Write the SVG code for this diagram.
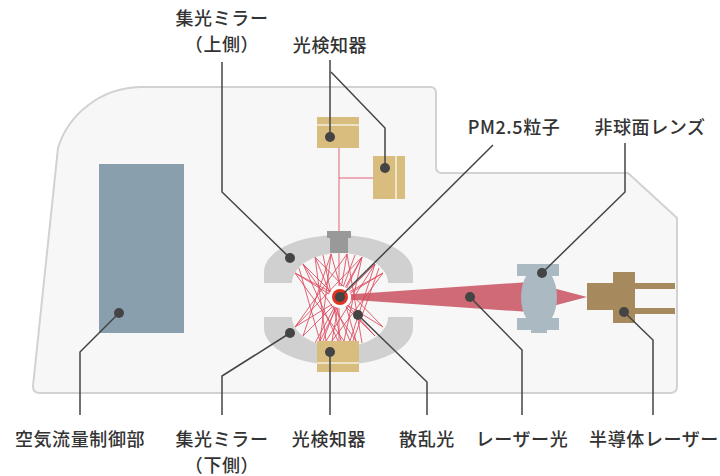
<svg xmlns="http://www.w3.org/2000/svg" width="720" height="476" viewBox="0 0 720 476">
  <style>
    .lbl { font-family: "Noto Sans CJK JP", "Noto Sans", "Liberation Sans", sans-serif; font-size: 18px; font-weight: 500; fill: #333; text-anchor: middle; letter-spacing: 0.6px; }
    .lead { fill: none; stroke: #444; stroke-width: 1.5; }
    .dot { fill: #444; }
    .scat { stroke: #de4a5e; stroke-width: 1; opacity: 0.85; }
    .mirror { fill: #d0d0d0; }
    .det { fill: #d8bd7e; }
    .detline { stroke: #f6efdc; stroke-width: 1.6; }
  </style>

  <rect width="720" height="476" fill="#ffffff"/>

  <!-- instrument housing -->
  <g id="housing">
    <path d="M 40 393 H 670 Q 677 393 677 386 V 218 L 628 173 H 442 Q 436 173 436 167 V 93 Q 436 87 430 87 H 140 C 100 88 68 115 58 148 L 33 386 Q 33 393 40 393 Z" fill="#f7f7f7" stroke="#d2d2d2" stroke-width="2"/>
  </g>

  <!-- air flow control unit -->
  <g id="flow-control">
    <rect x="99" y="164" width="85" height="169" fill="#8a9fad"/>
  </g>

  <!-- laser beam -->
  <g id="laser-beam">
    <path d="M 340 295 L 530 282 L 587 297 L 530 312 L 340 299 Z" fill="#d06a77"/>
  </g>

  <!-- scattered light inside the mirror chamber -->
  <g id="scattered-light">
    <line class="scat" x1="339" y1="148" x2="339" y2="231"/>
    <line class="scat" x1="339" y1="178" x2="373" y2="178"/>
    <line class="scat" x1="339" y1="253" x2="339" y2="341"/>
    <line class="scat" x1="295" y1="273" x2="344" y2="341"/>
    <line class="scat" x1="295" y1="273" x2="383" y2="327"/>
    <line class="scat" x1="299" y1="268" x2="320" y2="341"/>
    <line class="scat" x1="303" y1="264" x2="356" y2="341"/>
    <line class="scat" x1="303" y1="264" x2="338" y2="341"/>
    <line class="scat" x1="303" y1="264" x2="375" y2="336"/>
    <line class="scat" x1="315" y1="257" x2="350" y2="341"/>
    <line class="scat" x1="315" y1="257" x2="326" y2="341"/>
    <line class="scat" x1="315" y1="257" x2="383" y2="327"/>
    <line class="scat" x1="323" y1="255" x2="341" y2="341"/>
    <line class="scat" x1="331" y1="254" x2="320" y2="341"/>
    <line class="scat" x1="331" y1="254" x2="356" y2="341"/>
    <line class="scat" x1="331" y1="254" x2="303" y2="336"/>
    <line class="scat" x1="347" y1="254" x2="332" y2="341"/>
    <line class="scat" x1="347" y1="254" x2="295" y2="327"/>
    <line class="scat" x1="347" y1="254" x2="362" y2="343"/>
    <line class="scat" x1="355" y1="255" x2="323" y2="341"/>
    <line class="scat" x1="362" y1="257" x2="320" y2="341"/>
    <line class="scat" x1="362" y1="257" x2="344" y2="341"/>
    <line class="scat" x1="362" y1="257" x2="295" y2="327"/>
    <line class="scat" x1="375" y1="264" x2="326" y2="341"/>
    <line class="scat" x1="375" y1="264" x2="303" y2="336"/>
    <line class="scat" x1="375" y1="264" x2="350" y2="341"/>
    <line class="scat" x1="379" y1="268" x2="353" y2="341"/>
    <line class="scat" x1="383" y1="273" x2="332" y2="341"/>
    <line class="scat" x1="383" y1="273" x2="295" y2="327"/>
    <line class="scat" x1="340" y1="297" x2="295" y2="273"/>
    <line class="scat" x1="340" y1="297" x2="383" y2="273"/>
    <line class="scat" x1="340" y1="297" x2="315" y2="343"/>
    <line class="scat" x1="340" y1="297" x2="375" y2="336"/>
    <line class="scat" x1="340" y1="297" x2="362" y2="257"/>
  </g>

  <!-- upper condenser mirror -->
  <g id="mirror-upper">
    <path class="mirror" d="M 264 283 V 272 A 74.5 37 0 0 1 413 272 V 283 H 388 A 48 30 0 0 0 292 283 Z"/>
    <path d="M 327 231 H 351 V 238 H 348 V 253 H 330 V 238 H 327 Z" fill="#999999"/>
  </g>

  <!-- lower condenser mirror -->
  <g id="mirror-lower">
    <path class="mirror" d="M 264 317 V 328 A 74.5 37 0 0 0 413 328 V 317 H 388 A 48 30 0 0 1 292 317 Z"/>
  </g>

  <!-- photodetectors -->
  <g id="detector-top-1">
    <rect class="det" x="317" y="117" width="42" height="31"/>
    <line class="detline" x1="317" y1="125" x2="359" y2="125"/>
  </g>
  <g id="detector-top-2">
    <rect class="det" x="373" y="156" width="32" height="43"/>
    <line class="detline" x1="396" y1="156" x2="396" y2="199"/>
  </g>
  <g id="detector-bottom">
    <rect class="det" x="317" y="341" width="42" height="31"/>
    <line class="detline" x1="317" y1="363" x2="359" y2="363"/>
  </g>

  <!-- PM2.5 particle -->
  <g id="particle">
    <circle cx="340" cy="297" r="11" fill="#ffffff"/>
    <circle cx="340" cy="297" r="8" fill="#e2331f"/>
  </g>

  <!-- aspheric lens -->
  <g id="lens" fill="#aab9c2">
    <rect x="517" y="264" width="42" height="12"/>
    <rect x="517" y="318" width="42" height="12"/>
    <rect x="531" y="328" width="16" height="5"/>
    <ellipse cx="539" cy="297" rx="18" ry="30"/>
  </g>

  <!-- semiconductor laser -->
  <g id="laser" fill="#a68a5e">
    <rect x="587" y="283" width="30" height="27"/>
    <rect x="613" y="272" width="22" height="51"/>
    <rect x="635" y="283" width="40" height="6"/>
    <rect x="635" y="308" width="40" height="6"/>
  </g>

  <!-- leader lines -->
  <g id="connectors">
    <polyline class="lead" points="119,313 80,352 80,415"/>
    <polyline class="lead" points="222,62 222,192 290,258"/>
    <polyline class="lead" points="290,333 222,376 222,415"/>
    <polyline class="lead" points="330,137 330,60"/>
    <polyline class="lead" points="385,168 385,128 331,72"/>
    <polyline class="lead" points="330,352 330,415"/>
    <polyline class="lead" points="340,297 493,145"/>
    <polyline class="lead" points="358,315 427,382 427,415"/>
    <polyline class="lead" points="470,297 522,350 522,415"/>
    <polyline class="lead" points="542,273 625,192 625,143"/>
    <polyline class="lead" points="624,312 653,340 653,415"/>
    <circle class="dot" cx="119" cy="313" r="5"/>
    <circle class="dot" cx="290" cy="258" r="5"/>
    <circle class="dot" cx="290" cy="333" r="5"/>
    <circle class="dot" cx="330" cy="137" r="5"/>
    <circle class="dot" cx="385" cy="168" r="5"/>
    <circle class="dot" cx="330" cy="352" r="5"/>
    <circle class="dot" cx="340" cy="297" r="5"/>
    <circle class="dot" cx="358" cy="315" r="5"/>
    <circle class="dot" cx="470" cy="297" r="5"/>
    <circle class="dot" cx="542" cy="273" r="5"/>
    <circle class="dot" cx="624" cy="312" r="5"/>
  </g>

  <!-- labels -->
  <g id="labels">
    <text class="lbl" x="222" y="25">集光ミラー</text>
    <text class="lbl" x="222" y="51">（上側）</text>
    <text class="lbl" x="330" y="52">光検知器</text>
    <text class="lbl" x="514" y="134">PM2.5粒子</text>
    <text class="lbl" x="650" y="134">非球面レンズ</text>
    <text class="lbl" x="80" y="446">空気流量制御部</text>
    <text class="lbl" x="222" y="446">集光ミラー</text>
    <text class="lbl" x="222" y="472">（下側）</text>
    <text class="lbl" x="329" y="446">光検知器</text>
    <text class="lbl" x="427" y="446">散乱光</text>
    <text class="lbl" x="522" y="446">レーザー光</text>
    <text class="lbl" x="654" y="446">半導体レーザー</text>
  </g>
</svg>
